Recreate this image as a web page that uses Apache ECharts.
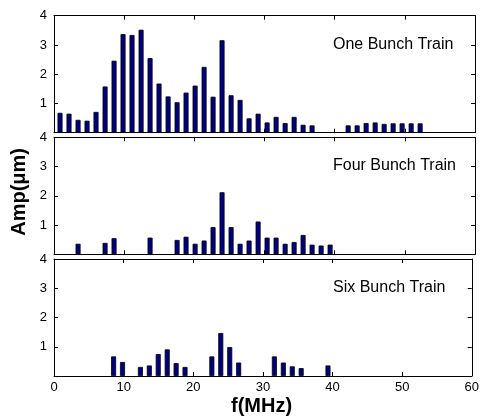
<!DOCTYPE html>
<html>
<head>
<meta charset="utf-8">
<script src="https://cdn.jsdelivr.net/npm/echarts@6/dist/echarts.min.js"></script>
<style>
  html, body { margin: 0; padding: 0; background: #fff; }
  #chart { width: 482px; height: 418px; }
</style>
</head>
<body>
<div id="chart"></div>
<script>
// bar frequencies (MHz), one per harmonic line
const freqs = [0.86, 2.14, 3.43, 4.71, 5.99, 7.28, 8.56, 9.84, 11.12, 12.41,
  13.69, 14.97, 16.26, 17.54, 18.82, 20.11, 21.39, 22.67, 23.95, 25.24,
  26.52, 27.8, 29.09, 30.37, 31.65, 32.94, 34.22, 35.5, 36.78, 38.07,
  39.35, 40.63, 41.92, 43.2, 44.48, 45.77, 47.05, 48.33, 49.61, 50.9, 52.18];

// amplitudes (um), 0 = no bar
const oneTrain = [0.68, 0.65, 0.44, 0.41, 0.71, 1.58, 2.46, 3.37, 3.34, 3.52,
  2.55, 1.68, 1.24, 1.04, 1.37, 1.61, 2.25, 1.23, 3.16, 1.28,
  1.12, 0.49, 0.65, 0.35, 0.54, 0.33, 0.54, 0.27, 0.25, 0,
  0, 0, 0.25, 0.25, 0.33, 0.35, 0.30, 0.32, 0.32, 0.32, 0.32];
const fourTrain = [0, 0, 0.36, 0, 0, 0.39, 0.55, 0, 0, 0,
  0.57, 0, 0, 0.49, 0.60, 0.36, 0.47, 0.93, 2.12, 0.93,
  0.36, 0.47, 1.12, 0.57, 0.57, 0.36, 0.42, 0.66, 0.33, 0.30,
  0.33, 0, 0, 0, 0, 0, 0, 0, 0, 0, 0];
const sixTrain = [0, 0, 0, 0, 0, 0, 0.67, 0.48, 0, 0.31,
  0.36, 0.75, 0.91, 0.44, 0.31, 0, 0, 0.67, 1.47, 0.99,
  0.46, 0, 0, 0, 0.67, 0.46, 0.33, 0.27, 0, 0,
  0.36, 0, 0, 0, 0, 0, 0, 0, 0, 0, 0];

const panelNames = ['One Bunch Train', 'Four Bunch Train', 'Six Bunch Train'];
const xTicks = [0, 10, 20, 30, 40, 50, 60];
const yTicks = [0, 1, 2, 3, 4];

const panels = [oneTrain, fourTrain, sixTrain];
const tops = [15.7, 137.3, 259];
const font = 'Liberation Sans, Arial, sans-serif';

const chart = echarts.init(document.getElementById('chart'));

const grid = tops.map(t => ({ left: 54, width: 421, top: t, height: 117 }));
const line = { show: true, onZero: false, lineStyle: { color: '#000', width: 1 } };
const tick = { show: true, inside: true, length: 4, lineStyle: { color: '#000' } };

const xAxis = [];
const yAxis = [];
[0, 1, 2].forEach(i => {
  xAxis.push({
    type: 'value', gridIndex: i, position: 'bottom',
    min: xTicks[0], max: xTicks[xTicks.length - 1], interval: 10,
    axisLine: line, axisTick: tick, splitLine: { show: false },
    axisLabel: { show: i === 2, color: '#000', fontSize: 13, fontFamily: font, margin: 5 }
  });
});
[0, 1, 2].forEach(i => {
  xAxis.push({
    type: 'value', gridIndex: i, position: 'top',
    min: 0, max: 60, interval: 10,
    axisLine: line, axisTick: tick, splitLine: { show: false },
    axisLabel: { show: false }
  });
});
[0, 1, 2].forEach(i => {
  yAxis.push({
    type: 'value', gridIndex: i, position: 'left',
    min: yTicks[0], max: yTicks[yTicks.length - 1], interval: 1,
    axisLine: line, axisTick: tick, splitLine: { show: false },
    axisLabel: {
      color: '#000', fontSize: 13, fontFamily: font, margin: 7,
      formatter: v => (v === 0 ? '' : v)
    }
  });
});
[0, 1, 2].forEach(i => {
  yAxis.push({
    type: 'value', gridIndex: i, position: 'right',
    min: 0, max: 4, interval: 1,
    axisLine: line, axisTick: tick, splitLine: { show: false },
    axisLabel: { show: false }
  });
});

const series = panels.map((vals, i) => ({
  type: 'bar',
  xAxisIndex: i,
  yAxisIndex: i,
  barWidth: 5,
  itemStyle: { color: '#00007f', borderColor: '#000', borderWidth: 0.8 },
  data: freqs.map((f, k) => [f, vals[k] > 0 ? vals[k] : '-'])
}));

const graphic = panelNames.map((name, i) => ({
  type: 'text', left: 333, top: tops[i] + 20.5,
  style: { text: name, font: '16px ' + font, fill: '#000' }
}));
graphic.push({
  type: 'text', left: 9, top: 148, rotation: Math.PI / 2,
  style: { text: 'Amp(μm)', font: 'bold 20px ' + font, fill: '#000' }
});
graphic.push({
  type: 'text', left: 231, top: 396,
  style: { text: 'f(MHz)', font: 'bold 20px ' + font, fill: '#000' }
});

chart.setOption({
  animation: false,
  grid: grid,
  xAxis: xAxis,
  yAxis: yAxis,
  series: series,
  graphic: graphic
});
</script>
</body>
</html>
